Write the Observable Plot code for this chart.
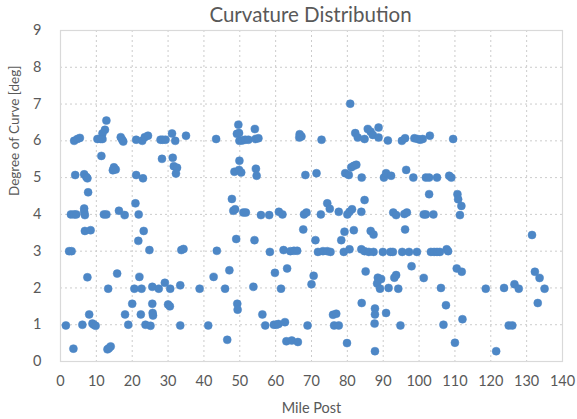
<!DOCTYPE html>
<html>
<head>
<meta charset="utf-8">
<script src="https://cdn.jsdelivr.net/npm/d3@7"></script>
<script src="https://cdn.jsdelivr.net/npm/@observablehq/plot@0.6"></script>
<style>
  body { margin: 0; background: #fff; font-family: Lato, "Open Sans", sans-serif; }
  #title { height: 24px; line-height: 28px; text-align: center; width: 577px; padding-left: 44px; box-sizing: border-box; font-size: 20.5px; color: #595959; }
</style>
</head>
<body>
<div id="title">Curvature Distribution</div>
<div id="chart"></div>
<script>
const milePost = [
  12.8,12.4,11.7,3.8,4.7,5.4,10.3,11.2,11.7,16.8,17.2,17.5,21.1,22.8,23.5,24.4,27.9,28.5,29.3,31.1,32.0,35.0,
  11.4,28.3,31.3,14.9,15.4,14.6,31.6,32.5,32.2,4.1,6.6,7.2,7.5,21.1,23.0,7.7,
  2.9,3.8,4.4,6.6,6.6,6.8,12.1,12.8,16.3,17.9,20.9,21.8,6.8,8.4,23.2,21.7,
  2.4,3.1,24.8,33.7,34.3,7.5,15.8,22.0,13.3,20.6,22.6,25.6,27.4,29.1,30.6,33.4,
  20.0,25.6,30.0,30.5,8.0,18.0,22.4,25.7,25.8,
  1.5,6.1,8.9,9.3,9.8,18.9,23.7,25.1,33.4,3.6,13.1,13.5,14.0,
  43.4,49.6,49.2,49.8,49.9,50.7,51.5,52.4,54.2,54.4,55.2,66.7,67.2,66.6,
  49.9,48.5,49.8,50.4,54.5,54.7,68.3,
  47.8,48.2,48.7,51.0,51.7,55.9,58.2,60.9,61.9,67.9,68.6,67.7,
  43.6,49.0,54.1,58.4,62.2,64.1,65.1,66.0,
  42.7,47.1,59.8,63.2,70.6,70.0,38.8,45.9,53.8,61.5,49.3,49.4,56.3,
  41.2,57.1,59.5,60.2,60.8,62.6,68.9,46.5,63.0,64.5,66.2,
  80.8,72.8,82.2,82.9,84.8,85.7,86.5,87.1,88.7,88.7,91.3,95.2,96.1,98.7,99.6,100.3,101.0,103.0,
  71.4,79.4,80.4,81.1,81.8,82.5,84.0,90.2,90.8,92.2,96.4,98.4,101.9,102.8,105.0,102.8,
  72.6,74.4,75.1,77.6,80.0,80.6,81.3,83.9,84.8,92.8,93.6,95.9,96.6,96.1,101.3,101.9,104.0,
  79.2,81.8,78.3,86.5,87.3,71.1,
  71.8,73.2,74.4,75.3,79.0,80.6,83.9,84.8,86.0,87.3,89.9,92.0,92.7,95.3,97.2,99.4,103.3,104.2,105.0,105.8,
  85.1,97.9,88.5,89.4,88.3,89.1,93.6,93.1,101.3,91.5,94.2,106.1,
  84.0,87.7,87.7,76.0,76.9,90.8,107.5,76.3,77.6,87.6,94.8,106.8,79.9,87.7,
  109.5,108.4,109.0,110.7,110.9,111.8,111.4,107.7,108.1,
  110.5,111.9,118.6,123.7,126.6,127.8,135.0,131.5,132.3,133.6,133.1,
  112.1,125.0,126.0,110.0,121.5
];
const degree = [
  6.55,6.3,6.2,6.0,6.05,6.08,6.05,6.05,6.05,6.1,6.03,5.98,6.03,6.0,6.1,6.14,6.03,6.03,6.03,6.2,6.0,6.14,
  5.59,5.51,5.54,5.28,5.22,5.2,5.31,5.27,5.11,5.07,5.09,5.02,4.98,5.07,4.98,4.6,
  4.0,4.0,4.0,4.16,4.07,3.98,4.0,4.0,4.1,3.98,4.3,4.0,3.55,3.57,3.55,3.28,
  3.0,3.0,3.03,3.03,3.06,2.29,2.39,2.3,1.98,1.98,1.98,2.03,1.98,2.14,1.98,2.07,
  1.57,1.57,1.55,1.5,1.28,1.28,1.28,1.32,1.25,
  0.98,1.0,1.03,1.0,0.97,1.0,1.0,0.97,0.98,0.35,0.33,0.36,0.41,
  6.05,6.44,6.19,6.21,6.0,6.01,6.03,6.03,6.32,6.05,6.07,6.18,6.12,6.09,
  5.46,5.16,5.21,5.14,5.24,5.05,5.07,
  4.42,4.1,4.14,4.05,4.05,3.98,3.98,4.07,4.0,4.0,4.05,3.59,
  3.01,3.33,3.3,2.98,3.03,3.0,3.01,3.01,
  2.3,2.48,2.41,2.53,2.33,2.1,1.98,1.98,2.03,1.98,1.57,1.41,1.28,
  0.98,0.98,1.0,1.0,1.02,1.07,0.98,0.59,0.55,0.57,0.53,
  7.01,6.03,6.21,6.09,6.05,6.32,6.25,6.16,6.36,6.09,6.01,6.0,6.07,6.07,6.05,6.03,6.05,6.14,
  5.12,5.12,5.07,5.28,5.32,5.35,5.0,5.0,5.12,5.05,5.21,5.0,5.0,5.0,5.0,4.55,
  4.0,4.3,4.15,4.07,4.0,4.07,4.14,4.07,4.39,4.05,3.98,4.01,4.05,3.59,4.0,4.0,4.0,
  3.53,3.57,3.3,3.55,3.45,3.3,
  2.98,3.0,3.0,2.98,2.98,3.05,3.05,3.0,2.98,2.98,2.98,2.98,2.98,2.98,2.98,2.98,2.98,2.98,2.98,2.98,
  2.45,2.59,2.28,2.24,2.12,1.98,2.35,2.28,2.27,2.0,1.98,2.0,
  1.59,1.44,1.28,1.27,1.3,1.32,1.53,0.98,0.98,1.03,0.98,1.0,0.5,0.28,
  6.05,5.05,5.0,4.55,4.41,4.23,3.98,3.05,3.0,
  2.53,2.44,1.98,2.0,2.1,1.98,1.98,3.44,2.44,2.27,1.59,
  1.15,0.98,0.98,0.51,0.28
];
const xTicks = [0,10,20,30,40,50,60,70,80,90,100,110,120,130,140];
const yTicks = [0,1,2,3,4,5,6,7,8,9];
const xLabel = "Mile Post";
const yLabel = "Degree of Curve [deg]";

const points = milePost.map((m, i) => ({mile: m, deg: degree[i]}));
const gray = "#595959";

const chart = Plot.plot({
  width: 577,
  height: 395,
  marginTop: 6,
  marginBottom: 58,
  marginLeft: 60,
  marginRight: 15,
  style: {fontFamily: "Lato, 'Open Sans', sans-serif", fontSize: "14px", color: gray, background: "#fff", overflow: "visible"},
  x: {domain: [0, 140]},
  y: {domain: [0, 9]},
  marks: [
    Plot.gridX(xTicks, {stroke: "#cccccc", strokeOpacity: 1, strokeDasharray: "2,3"}),
    Plot.gridY(yTicks, {stroke: "#cccccc", strokeOpacity: 1, strokeDasharray: "2,3"}),
    Plot.frame({stroke: "#d9d9d9", strokeWidth: 1.2}),
    Plot.axisX(xTicks, {tickSize: 0, tickPadding: 14, fontSize: 14.5, label: null, fill: gray}),
    Plot.axisY(yTicks, {tickSize: 0, tickPadding: 19, fontSize: 14.5, label: null, fill: gray}),
    Plot.dot(points, {x: "mile", y: "deg", r: 4, fill: "#4d87c6", stroke: "#4d87c6", strokeWidth: 0.5}),
    Plot.text([xLabel], {frameAnchor: "bottom", dy: 47, text: d => d, fontSize: 14.5, fill: gray, lineAnchor: "middle"}),
    Plot.text([yLabel], {frameAnchor: "left", dx: -46, rotate: -90, text: d => d, fontSize: 13.5, fill: gray, lineAnchor: "middle"})
  ]
});
document.getElementById("chart").appendChild(chart);
</script>
</body>
</html>
